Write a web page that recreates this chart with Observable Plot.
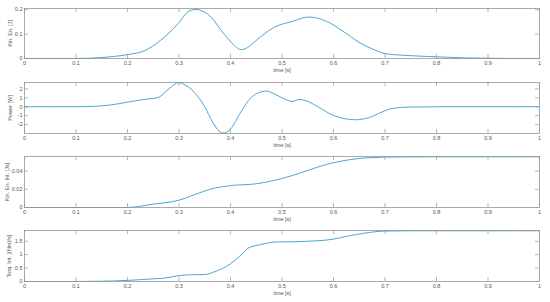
<!DOCTYPE html>
<html>
<head>
<meta charset="utf-8">
<script src="https://cdn.jsdelivr.net/npm/d3@7"></script>
<script src="https://cdn.jsdelivr.net/npm/@observablehq/plot@0.6"></script>
<style>
  html, body { margin: 0; padding: 0; background: #fff; }
  #chart { width: 550px; height: 302px; font-family: "Liberation Sans", Arial, sans-serif; }
  #chart svg { display: block; }
</style>
</head>
<body>
<div id="chart"></div>
<script>
// ---- data ----
const xTicks = [0, 0.1, 0.2, 0.3, 0.4, 0.5, 0.6, 0.7, 0.8, 0.9, 1];

const keT = [0,0.05,0.1,0.15,0.2,0.232,0.264,0.297,0.32,0.333,0.345,0.356,0.37,0.382,0.395,0.407,0.42,0.433,0.446,0.465,0.485,0.52,0.552,0.585,0.617,0.649,0.681,0.7,0.746,0.8,0.85,0.9,0.95,1];
const keV = [0,0,0,0.004,0.016,0.031,0.074,0.14,0.195,0.201,0.195,0.182,0.15,0.115,0.082,0.054,0.036,0.045,0.067,0.1,0.128,0.152,0.17,0.154,0.114,0.067,0.034,0.02,0.012,0.007,0.003,0.001,0,0];
const keTicks = [0, 0.1, 0.2];

const pwT = [0,0.1,0.15,0.17,0.2,0.23,0.26,0.28,0.3,0.31,0.33,0.35,0.365,0.385,0.4,0.42,0.435,0.45,0.47,0.485,0.5,0.52,0.533,0.545,0.571,0.597,0.623,0.642,0.668,0.694,0.714,0.746,0.8,0.9,1];
const pwV = [0,0,0.1,0.22,0.52,0.8,1.05,2.0,2.7,2.5,1.6,0,-1.7,-2.95,-2.5,-0.6,0.7,1.45,1.76,1.45,1.0,0.6,0.82,0.7,-0.04,-0.9,-1.35,-1.46,-1.23,-0.6,-0.19,-0.04,0,0,0];
const pwTicks = [-2, -1, 0, 1, 2];

const kiT = [0,0.1,0.2,0.25,0.3,0.33,0.36,0.4,0.45,0.487,0.52,0.552,0.585,0.617,0.649,0.681,0.7,0.75,0.8,0.9,1];
const kiV = [0,0,0,0.0037,0.008,0.014,0.02,0.024,0.026,0.030,0.035,0.041,0.047,0.051,0.0537,0.0548,0.0553,0.0555,0.0556,0.0556,0.0556];
const kiTicks = [0, 0.02, 0.04];

const tqT = [0,0.1,0.15,0.2,0.25,0.27,0.3,0.32,0.35,0.37,0.4,0.42,0.435,0.46,0.487,0.52,0.55,0.597,0.63,0.66,0.7,0.75,0.8,0.9,1];
const tqV = [0,0,0.01,0.04,0.1,0.12,0.22,0.25,0.26,0.37,0.66,0.98,1.25,1.38,1.47,1.48,1.5,1.57,1.7,1.8,1.88,1.89,1.89,1.89,1.89];
const tqTicks = [0, 0.5, 1, 1.5];

const panels = [
  {t: keT, v: keV, ticks: keTicks, domain: [0, 0.205], label: "Kin. En. [J]", height: 75, mt: 8, mb: 17, ldx: -14},
  {t: pwT, v: pwV, ticks: pwTicks, domain: [-3.0, 2.72], label: "Power [W]", height: 75, mt: 7, mb: 17, ldx: -14},
  {t: kiT, v: kiV, ticks: kiTicks, domain: [0, 0.0559], label: "Kin. En. Int. [Js]", height: 75, mt: 6, mb: 18, ldx: -17},
  {t: tqT, v: tqV, ticks: tqTicks, domain: [0, 1.9], label: "Torq. Int. [(Nm)\u00B2s]", height: 77, mt: 5, mb: 21, ldx: -15}
];

const lineColor = "#4aa6d7";
const axisColor = "#969696";
const textColor = "#555555";
const tickLen = 4;

const root = document.getElementById("chart");
for (const p of panels) {
  const data = p.t.map((t, i) => ({t, v: p.v[i]}));
  const ph = p.height - p.mt - p.mb;
  const chart = Plot.plot({
    width: 550,
    height: p.height,
    marginLeft: 24,
    marginRight: 11,
    marginTop: p.mt,
    marginBottom: p.mb,
    style: {fontFamily: "Liberation Sans, Arial, sans-serif", fontSize: "5.5px", color: textColor, background: "#fff"},
    x: {domain: [0, 1]},
    y: {domain: p.domain},
    marks: [
      // x tick marks (inside, bottom and top)
      Plot.tickX(xTicks, {x: d => d, stroke: axisColor, strokeWidth: 0.7, insetTop: ph - tickLen}),
      Plot.tickX(xTicks, {x: d => d, stroke: axisColor, strokeWidth: 0.7, insetBottom: ph - tickLen}),
      // y tick marks (inside, left and right)
      Plot.tickY(p.ticks, {y: d => d, stroke: axisColor, strokeWidth: 0.7, insetRight: 515 - tickLen}),
      Plot.tickY(p.ticks, {y: d => d, stroke: axisColor, strokeWidth: 0.7, insetLeft: 515 - tickLen}),
      Plot.axisX(xTicks, {tickSize: 0, tickPadding: 3, tickFormat: d => String(d), label: null, fill: textColor, fontSize: 5.5}),
      Plot.axisY(p.ticks, {tickSize: 0, tickPadding: 2, tickFormat: d => String(d), label: null, fill: textColor, fontSize: 5.5}),
      Plot.line(data, {x: "t", y: "v", stroke: lineColor, strokeWidth: 1, curve: "monotone-x"}),
      Plot.frame({stroke: axisColor, strokeWidth: 0.8}),
      Plot.text(["time [s]"], {frameAnchor: "bottom", dy: 13, fill: textColor, fontSize: 5.5}),
      Plot.text([p.label], {frameAnchor: "left", textAnchor: "middle", rotate: -90, dx: p.ldx, fill: textColor, fontSize: 5.5})
    ]
  });
  root.appendChild(chart);
}
</script>
</body>
</html>
